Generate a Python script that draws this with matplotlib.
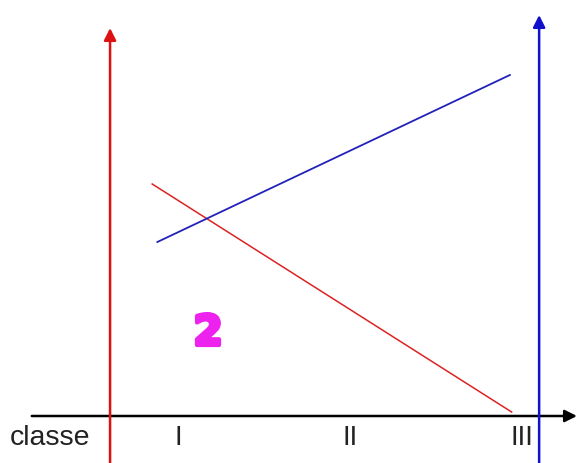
import matplotlib
matplotlib.use('Agg')
import matplotlib.pyplot as plt
import matplotlib.patheffects as pe

# classes on the horizontal axis (I, II, III at 1, 2, 3)
classes = [1, 2, 3]
class_labels = ['I', 'II', 'III']

# the two straight lines (class position, value)
red_x = [0.85, 2.94]
red_y = [2.32, 0.04]
blue_x = [0.88, 2.93]
blue_y = [1.74, 3.41]

# where the two vertical axes stand
red_axis_x = 0.605
blue_axis_x = 3.10

fig = plt.figure(figsize=(5.78, 4.63), dpi=100)
ax = fig.add_axes([0, 0, 1, 1])
ax.set_xlim(-0.035, 3.326)
ax.set_ylim(-0.47, 4.16)
ax.axis('off')

# horizontal axis with arrow
ax.annotate('', xy=(3.32, 0), xytext=(0.15, 0),
            arrowprops=dict(arrowstyle='-|>', color='black', lw=1.8,
                            mutation_scale=18, shrinkA=0, shrinkB=0))

# red vertical axis
ax.annotate('', xy=(red_axis_x, 3.88), xytext=(red_axis_x, -0.47),
            arrowprops=dict(arrowstyle='-|>', color='#dd1111', lw=1.8,
                            mutation_scale=18, shrinkA=0, shrinkB=0))
# blue vertical axis
ax.annotate('', xy=(blue_axis_x, 4.01), xytext=(blue_axis_x, -0.47),
            arrowprops=dict(arrowstyle='-|>', color='#1111cc', lw=1.8,
                            mutation_scale=18, shrinkA=0, shrinkB=0))

ax.plot(red_x, red_y, color='#dd2222', lw=1.1)
ax.plot(blue_x, blue_y, color='#2222bb', lw=1.3)

# labels under the axis
for x, lab in zip(classes, class_labels):
    ax.text(x, -0.22, lab, ha='center', va='center', fontsize=20,
            family='Liberation Sans', color='#222222')
ax.text(0.255, -0.22, 'classe', ha='center', va='center', fontsize=20.5,
        family='Liberation Sans', color='#222222')

ax.text(1.175, 0.83, '2', ha='center', va='center', fontsize=30,
        fontweight='heavy', color='#ee22ee',
        path_effects=[pe.withStroke(linewidth=3, foreground='#ee22ee')])

fig.savefig('out.png', dpi=100)
